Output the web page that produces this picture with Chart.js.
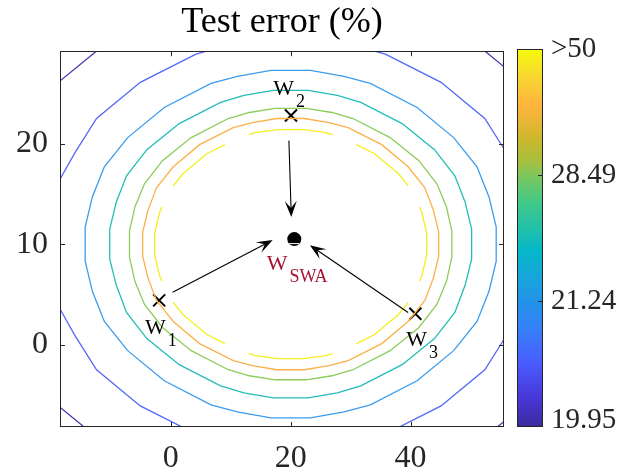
<!DOCTYPE html>
<html>
<head>
<meta charset="utf-8">
<script src="https://cdn.jsdelivr.net/npm/chart.js@4.4.1/dist/chart.umd.min.js"></script>
<style>
  html, body { margin: 0; padding: 0; background: #fff; }
</style>
</head>
<body>
<canvas id="c" width="633" height="474"></canvas>
<script>
// axes
const xTicks = [0, 20, 40];
const yTicks = [0, 10, 20];
const xRange = [-18.5, 55.6];
const yRange = [-8.2, 29.2];

// contour lines (vertices), outermost first
const darkX = [70.4,68.6,65.8,60.0,51.0,39.6,33.0,24.8, 15.2,7.0,0.4,-11.0,-20.0,-25.8,-28.6,-30.4, -30.4,-28.6,-25.8,-20.0,-11.0,0.4,7.0,15.2, 24.8,33.0,39.6,51.0,60.0,65.8,68.6,70.4, 70.4];
const darkY = [12.5,16.9,21.2,25.5,29.9,33.4,34.4,35.2, 35.2,34.4,33.4,29.9,25.5,21.2,16.9,12.5, 7.5,3.1,-1.2,-5.5,-9.9,-13.4,-14.4,-15.2, -15.2,-14.4,-13.4,-9.9,-5.5,-1.2,3.1,7.5, 12.5];

const violetX = [60.8,59.4,56.0,52.4,45.1,35.8,30.5,23.9, 16.1,9.5,4.2,-5.1,-12.4,-16.0,-19.4,-20.8, -20.8,-19.4,-16.0,-12.4,-5.1,4.2,9.5,16.1, 23.9,30.5,35.8,45.1,52.4,56.0,59.4,60.8, 60.8];
const violetY = [12.0,15.5,19.1,22.5,26.1,28.9,29.8,30.4, 30.4,29.8,28.9,26.1,22.5,19.1,15.5,12.0, 8.0,4.5,0.9,-2.5,-6.1,-8.9,-9.8,-10.4, -10.4,-9.8,-8.9,-6.1,-2.5,0.9,4.5,8.0, 12.0];

const blueX = [54.3,53.1,51.1,47.2,41.1,33.3,28.9,23.3, 16.7,11.1,6.7,-1.1,-7.2,-11.1,-13.1,-14.3, -14.3,-13.1,-11.1,-7.2,-1.1,6.7,11.1,16.7, 23.3,28.9,33.3,41.1,47.2,51.1,53.1,54.3, 54.3];
const blueY = [11.7,14.7,17.7,20.6,23.6,26.0,26.7,27.3, 27.3,26.7,26.0,23.6,20.6,17.7,14.7,11.7, 8.3,5.3,2.3,-0.6,-3.6,-6.0,-6.7,-7.3, -7.3,-6.7,-6.0,-3.6,-0.6,2.3,5.3,8.3, 11.7];

const tealX = [50.2,49.1,47.4,44.0,38.6,31.7,27.8,22.9, 17.1,12.2,8.3,1.4,-4.0,-7.4,-9.1,-10.2, -10.2,-9.1,-7.4,-4.0,1.4,8.3,12.2,17.1, 22.9,27.8,31.7,38.6,44.0,47.4,49.1,50.2, 50.2];
const tealY = [11.5,14.2,16.8,19.4,22.0,24.1,24.8,25.3, 25.3,24.8,24.1,22.0,19.4,16.8,14.2,11.5, 8.5,5.9,3.2,0.6,-2.0,-4.1,-4.8,-5.3, -5.3,-4.8,-4.1,-2.0,0.6,3.2,5.9,8.5, 11.5];

const greenX = [46.9,46.0,44.4,41.4,36.6,30.4,26.9,22.6, 17.4,13.1,9.6,3.4,-1.4,-4.4,-6.0,-6.9, -6.9,-6.0,-4.4,-1.4,3.4,9.6,13.1,17.4, 22.6,26.9,30.4,36.6,41.4,44.4,46.0,46.9, 46.9];
const greenY = [11.3,13.7,16.0,18.3,20.6,22.5,23.1,23.5, 23.5,23.1,22.5,20.6,18.3,16.0,13.7,11.3, 8.7,6.3,4.0,1.7,-0.6,-2.5,-3.1,-3.5, -3.5,-3.1,-2.5,-0.6,1.7,4.0,6.3,8.7, 11.3];

const orangeX = [44.7,43.8,42.4,39.6,35.2,29.6,26.4,22.3, 17.7,13.6,10.4,4.8,0.4,-2.4,-3.8,-4.7, -4.7,-3.8,-2.4,0.4,4.8,10.4,13.6,17.7, 22.3,26.4,29.6,35.2,39.6,42.4,43.8,44.7, 44.7];
const orangeY = [11.2,13.4,15.6,17.7,19.9,21.6,22.1,22.5, 22.5,22.1,21.6,19.9,17.7,15.6,13.4,11.2, 8.8,6.6,4.4,2.3,0.1,-1.6,-2.1,-2.5, -2.5,-2.1,-1.6,0.1,2.3,4.4,6.6,8.8, 11.2];

// innermost line is broken into pieces (null = gap)
const yellowX = [13.0,14.1,17.8,22.2,25.9,27.0, null, 31.0,34.0,38.0,39.6, null, 41.5,41.9,42.7,42.7,41.9,41.5, null,
                 39.6,38.0,34.0,31.0, null, 27.0,25.9,22.2,17.8,14.1,13.0, null, 9.0,6.0,2.0,0.4, null,
                 -1.5,-1.9,-2.7,-2.7,-1.9,-1.5, null, 0.4,2.0,6.0,9.0];
const yellowY = [20.9,21.1,21.4,21.4,21.1,20.9, null, 19.9,19.0,17.0,15.8, null, 13.7,13.1,11.1,8.9,6.9,6.3, null,
                 4.2,3.0,1.0,0.1, null, -0.9,-1.1,-1.4,-1.4,-1.1,-0.9, null, 0.1,1.0,3.0,4.2, null,
                 6.3,6.9,8.9,11.1,13.1,13.7, null, 15.8,17.0,19.0,19.9];

// weights and their average
const wX = [-1.95, 20.05, 40.8];
const wY = [4.4, 22.8, 3.07];
const swaX = [20.6];
const swaY = [10.5];
const wSubs = ['1', '2', '3'];

// arrows from each weight toward the average
const arrowFromX = [0.3, 19.7, 39.6];
const arrowFromY = [5.2, 20.3, 3.2];
const arrowToX = [17.0, 20.1, 23.2];
const arrowToY = [10.4, 12.7, 9.9];

// colorbar
const cbarLabels = ['19.95', '21.24', '28.49', '>50'];
const cbarTickAt = [0, 1/3, 2/3, 1];

const SERIF = "'Liberation Serif', 'Times New Roman', serif";
const INK = '#262626';
const SWA_RED = '#a2142f';

const cbarStops = [
  [0.00, '#3b2a9c'], [0.08, '#4838d8'], [0.17, '#4a5cff'], [0.26, '#3680f8'],
  [0.33, '#2392e8'], [0.39, '#18a4dc'], [0.47, '#06b8c8'], [0.52, '#20c0ac'],
  [0.59, '#3ec88a'], [0.66, '#78c860'], [0.70, '#a4c040'], [0.76, '#ccb82c'],
  [0.85, '#feb43e'], [0.93, '#f8d830'], [1.00, '#f8fa0e']
];

function pts(xs, ys) { return xs.map((x, i) => ({ x: x, y: ys[i] })); }

function contour(xs, ys, color) {
  return { data: pts(xs, ys), showLine: true, borderColor: color, borderWidth: 1.3,
           pointRadius: 0, fill: false, spanGaps: false, clip: 0 };
}

const datasets = [
  contour(darkX, darkY, '#4535b0'),
  contour(violetX, violetY, '#5567f7'),
  contour(blueX, blueY, '#3a9cf0'),
  contour(tealX, tealY, '#22bdb8'),
  contour(greenX, greenY, '#8ccc5a'),
  contour(orangeX, orangeY, '#fdb04a'),
  contour(yellowX, yellowY, '#f5ee20'),
  { data: pts(wX, wY), pointStyle: 'crossRot', pointRadius: 8.5, borderWidth: 2,
    borderColor: '#000', showLine: false },
  { data: pts(swaX, swaY), pointStyle: 'circle', pointRadius: 7, backgroundColor: '#000',
    borderWidth: 0, showLine: false }
];

function arrow(ctx, x0, y0, x1, y1) {
  const a = Math.atan2(y1 - y0, x1 - x0);
  const len = 16, half = 6, notch = 7;
  ctx.beginPath();
  ctx.moveTo(x0, y0);
  ctx.lineTo(x1 - (len - notch) * Math.cos(a), y1 - (len - notch) * Math.sin(a));
  ctx.stroke();
  ctx.save();
  ctx.translate(x1, y1);
  ctx.rotate(a);
  ctx.beginPath();
  ctx.moveTo(0, 0);
  ctx.lineTo(-len, -half);
  ctx.lineTo(-len + notch, 0);
  ctx.lineTo(-len, half);
  ctx.closePath();
  ctx.fill();
  ctx.restore();
}

function subLabel(ctx, x, y, sub, color) {
  ctx.fillStyle = color;
  ctx.textAlign = 'left';
  ctx.textBaseline = 'alphabetic';
  ctx.font = '22px ' + SERIF;
  ctx.fillText('W', x, y);
  const w = ctx.measureText('W').width;
  ctx.font = '18px ' + SERIF;
  ctx.fillText(sub, x + w + 2, y + 12);
}

const extras = {
  id: 'extras',
  afterDatasetsDraw(chart) {
    const { ctx, scales: { x, y } } = chart;
    ctx.save();
    ctx.strokeStyle = '#000';
    ctx.fillStyle = '#000';
    ctx.lineWidth = 1.1;
    arrowFromX.forEach((v, i) => {
      arrow(ctx, x.getPixelForValue(v), y.getPixelForValue(arrowFromY[i]),
            x.getPixelForValue(arrowToX[i]), y.getPixelForValue(arrowToY[i]));
    });
    // thin white streak across the dot, as in the picture
    const sx = x.getPixelForValue(swaX[0]), sy = y.getPixelForValue(swaY[0]);
    ctx.strokeStyle = '#fff';
    ctx.lineWidth = 1;
    ctx.beginPath();
    ctx.moveTo(sx - 5, sy + 4.5);
    ctx.lineTo(sx + 5, sy + 4.5);
    ctx.stroke();

    // labels: placed at data coordinates next to the markers
    const labX = [-4.3, 17.1, 39.3];
    const labY = [1.1, 24.8, -0.1];
    wSubs.forEach((s, i) => subLabel(ctx, x.getPixelForValue(labX[i]), y.getPixelForValue(labY[i]), s, '#000'));
    subLabel(ctx, x.getPixelForValue(16.0), y.getPixelForValue(7.4), 'SWA', SWA_RED);
    ctx.restore();
  },
  afterDraw(chart) {
    const { ctx, chartArea: a, scales: { x, y } } = chart;
    ctx.save();
    ctx.strokeStyle = INK;
    ctx.lineWidth = 1;
    ctx.strokeRect(Math.round(a.left) + 0.5, Math.round(a.top) + 0.5,
                   Math.round(a.right - a.left) - 1, Math.round(a.bottom - a.top) - 1);
    ctx.beginPath();
    xTicks.forEach(v => {
      const px = Math.round(x.getPixelForValue(v)) + 0.5;
      ctx.moveTo(px, a.bottom); ctx.lineTo(px, a.bottom - 5);
      ctx.moveTo(px, a.top); ctx.lineTo(px, a.top + 5);
    });
    yTicks.forEach(v => {
      const py = Math.round(y.getPixelForValue(v)) + 0.5;
      ctx.moveTo(a.left, py); ctx.lineTo(a.left + 5, py);
      ctx.moveTo(a.right, py); ctx.lineTo(a.right - 5, py);
    });
    ctx.stroke();

    // colorbar
    const cl = Math.round(a.right) + 13, cw = 26;
    const ct = Math.round(a.top) - 2, cb = Math.round(a.bottom);
    const g = ctx.createLinearGradient(0, cb, 0, ct);
    cbarStops.forEach(s => g.addColorStop(s[0], s[1]));
    ctx.fillStyle = g;
    ctx.fillRect(cl, ct, cw, cb - ct);
    ctx.strokeStyle = INK;
    ctx.strokeRect(cl + 0.5, ct + 0.5, cw - 1, cb - ct - 1);
    ctx.fillStyle = INK;
    ctx.font = '29px ' + SERIF;
    ctx.textAlign = 'left';
    ctx.textBaseline = 'middle';
    cbarLabels.forEach((lab, i) => {
      const py = cb - cbarTickAt[i] * (cb - ct);
      if (i > 0 && i < cbarLabels.length - 1) {
        ctx.beginPath();
        ctx.moveTo(cl + cw, Math.round(py) + 0.5);
        ctx.lineTo(cl + cw - 5, Math.round(py) + 0.5);
        ctx.stroke();
      }
      let ly = py;
      if (i === 0) ly = py - 7;
      ctx.fillText(lab, cl + cw + 8, ly);
    });
    ctx.restore();
  }
};

const tickFont = { family: SERIF, size: 32 };

new Chart(document.getElementById('c'), {
  type: 'scatter',
  data: { datasets: datasets },
  options: {
    responsive: false,
    animation: false,
    events: [],
    layout: { padding: { left: 0, right: 129, top: 0, bottom: 0 } },
    plugins: {
      legend: { display: false },
      tooltip: { enabled: false },
      title: {
        display: true,
        text: 'Test error (%)',
        fullSize: false,
        color: '#000',
        font: { family: SERIF, size: 36, weight: 'normal', lineHeight: 1.2 },
        padding: { top: 1, bottom: 7 }
      }
    },
    scales: {
      x: {
        type: 'linear', min: xRange[0], max: xRange[1],
        grid: { display: false, drawTicks: false },
        border: { display: false },
        afterBuildTicks: s => { s.ticks = xTicks.map(v => ({ value: v })); },
        afterFit: s => { s.height = 47; },
        ticks: { color: INK, font: tickFont, padding: 12, maxRotation: 0, autoSkip: false }
      },
      y: {
        type: 'linear', min: yRange[0], max: yRange[1],
        grid: { display: false, drawTicks: false },
        border: { display: false },
        afterBuildTicks: s => { s.ticks = yTicks.map(v => ({ value: v })); },
        afterFit: s => { s.width = 60; },
        ticks: { color: INK, font: tickFont, padding: 12, autoSkip: false }
      }
    }
  },
  plugins: [extras]
});
</script>
</body>
</html>
